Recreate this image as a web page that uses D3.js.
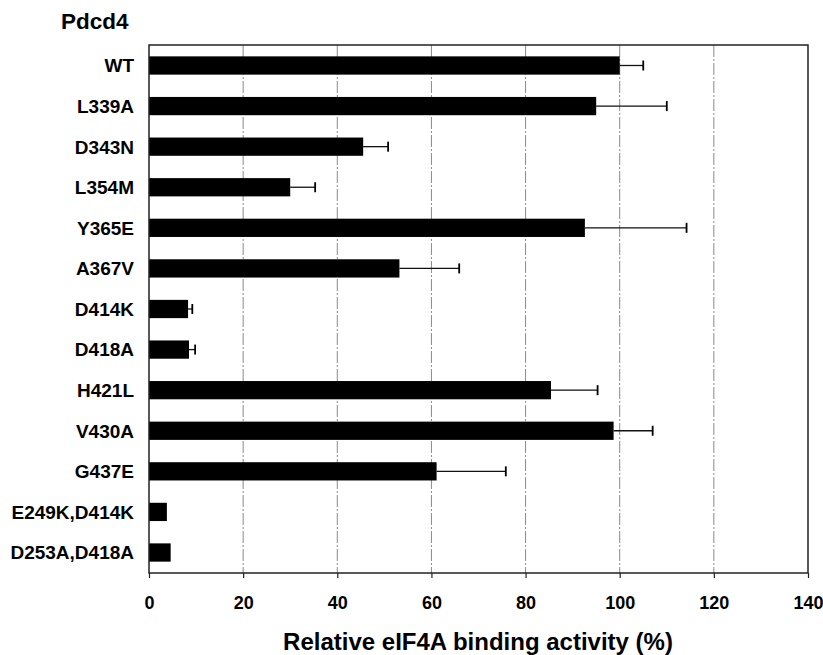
<!DOCTYPE html>
<html>
<head>
<meta charset="utf-8">
<script src="https://cdn.jsdelivr.net/npm/d3@7"></script>
<style>
  body { margin: 0; background: #fff; }
  text { font-family: "Liberation Sans", Arial, sans-serif; font-weight: bold; fill: #000; }
</style>
</head>
<body>
<div id="chart"></div>
<script>
// mutants, top to bottom
var mutants = ["WT", "L339A", "D343N", "L354M", "Y365E", "A367V", "D414K",
               "D418A", "H421L", "V430A", "G437E", "E249K,D414K", "D253A,D418A"];
// relative binding activity (%)
var activity = [100, 95, 45.5, 30, 92.6, 53.2, 8.3, 8.5, 85.4, 98.7, 61.1, 3.8, 4.6];
// upper end of the error bar (%), null = no error bar
var errTop = [105, 110, 50.8, 35.3, 114.2, 65.9, 9.2, 9.8, 95.3, 107, 75.8, null, null];
var xTicks = [0, 20, 40, 60, 80, 100, 120, 140];

var data = mutants.map(function(m, i) {
    return { name: m, value: activity[i], err: errTop[i] };
});

var params = { width: 823, height: 655, left: 149, top: 45, right: 808, bottom: 573 };

var svg = d3.select("#chart").append("svg")
    .attr("width", params.width)
    .attr("height", params.height);

var x = d3.scaleLinear().domain([0, 140]).range([params.left, params.right]);
var y = d3.scaleBand().domain(mutants).range([params.top, params.bottom])
    .paddingInner(0.55).paddingOuter(0.28);

// gridlines
svg.selectAll(".grid").data(xTicks.slice(1, -1)).enter()
    .append("line")
    .attr("class", "grid")
    .attr("x1", function(d) { return x(d); })
    .attr("x2", function(d) { return x(d); })
    .attr("y1", params.top)
    .attr("y2", params.bottom)
    .attr("stroke", "#8a8a8a")
    .attr("stroke-width", 1)
    .attr("stroke-dasharray", "12,2,2,2");

// bars
svg.selectAll(".bar").data(data).enter()
    .append("rect")
    .attr("class", "bar")
    .attr("x", x(0))
    .attr("y", function(d) { return y(d.name); })
    .attr("width", function(d) { return x(d.value) - x(0); })
    .attr("height", y.bandwidth())
    .attr("fill", "#000");

// error bars
var eb = svg.selectAll(".err").data(data.filter(function(d) { return d.err != null; }))
    .enter().append("g").attr("class", "err");
eb.append("line")
    .attr("x1", function(d) { return x(d.value); })
    .attr("x2", function(d) { return x(d.err); })
    .attr("y1", function(d) { return y(d.name) + y.bandwidth() / 2; })
    .attr("y2", function(d) { return y(d.name) + y.bandwidth() / 2; })
    .attr("stroke", "#111").attr("stroke-width", 1.3);
eb.append("line")
    .attr("x1", function(d) { return x(d.err); })
    .attr("x2", function(d) { return x(d.err); })
    .attr("y1", function(d) { return y(d.name) + y.bandwidth() / 2 - 5; })
    .attr("y2", function(d) { return y(d.name) + y.bandwidth() / 2 + 5; })
    .attr("stroke", "#000").attr("stroke-width", 1.8);

// frame
svg.append("rect")
    .attr("x", params.left)
    .attr("y", params.top)
    .attr("width", params.right - params.left)
    .attr("height", params.bottom - params.top)
    .attr("fill", "none")
    .attr("stroke", "#222")
    .attr("stroke-width", 1.5);

// x axis
var xAxis = svg.append("g")
    .attr("transform", "translate(0," + params.bottom + ")")
    .call(d3.axisBottom(x).tickValues(xTicks).tickSize(5).tickPadding(18).tickFormat(d3.format("d")));
xAxis.select(".domain").remove();
xAxis.selectAll("line").attr("stroke", "#222").attr("stroke-width", 1.2);
xAxis.selectAll("text")
    .style("font-size", "18px")
    .style("font-family", "Liberation Sans, Arial, sans-serif")
    .style("font-weight", "bold")
    .attr("fill", "#000");

// category labels
svg.selectAll(".cat").data(data).enter()
    .append("text")
    .attr("class", "cat")
    .attr("x", 134)
    .attr("y", function(d) { return y(d.name) + y.bandwidth() / 2; })
    .attr("dy", "0.36em")
    .attr("text-anchor", "end")
    .style("font-size", "19px")
    .text(function(d) { return d.name; });

// title and axis label
svg.append("text")
    .attr("x", 61)
    .attr("y", 29)
    .style("font-size", "22.5px")
    .text("Pdcd4");

svg.append("text")
    .attr("x", 478)
    .attr("y", 650)
    .attr("text-anchor", "middle")
    .style("font-size", "24px")
    .text("Relative eIF4A binding activity (%)");
</script>
</body>
</html>
